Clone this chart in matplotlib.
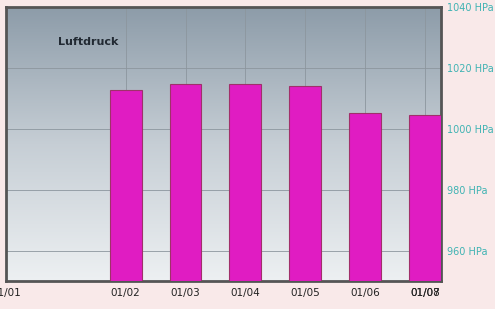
import numpy as np
import matplotlib.pyplot as plt
from matplotlib.colors import LinearSegmentedColormap

dates = ['01/02', '01/03', '01/04', '01/05', '01/06', '01/07']
pressure = [1012.7, 1014.6, 1014.6, 1014.0, 1005.3, 1004.6]  # hPa
y_ticks = [960, 980, 1000, 1020, 1040]
y_min = 950

x = np.arange(len(dates)) + 2  # 01/01 sits at the left edge, one slot empty

fig = plt.figure(figsize=(4.95, 3.09), dpi=100, facecolor='#f9e9e9')
ax = fig.add_axes([6 / 495, 28 / 309, 435 / 495, 274 / 309])

# background gradient
grad = LinearSegmentedColormap.from_list('bg', ['#edf0f2', '#c6ced5', '#8d9ca9'])
ax.imshow(np.linspace(0, 1, 256).reshape(-1, 1), aspect='auto', cmap=grad,
          origin='lower', extent=[0, 7.27, y_min, 1040], zorder=0)

ax.bar(x, np.array(pressure) - y_min, width=0.53, bottom=y_min, color='#e01cc2',
       edgecolor='#a0306a', linewidth=0.8, zorder=3)
ax.set_xlim(0, 7.27)
ax.set_ylim(y_min, 1040)

for yv in y_ticks[:-1]:
    ax.axhline(yv, color='#8c969e', linewidth=0.6, zorder=1)
for xv in x:
    ax.axvline(xv, color='#8c969e', linewidth=0.6, zorder=1)

ax.yaxis.tick_right()
ax.set_yticks(y_ticks)
ax.set_yticklabels([f'{v} HPa' for v in y_ticks], color='#3fb3b3', fontsize=7)
ax.set_xticks([0] + list(x))
ax.set_xticklabels(['01/01'] + dates, fontsize=7.5, color='#222222')
ax.tick_params(axis='x', length=0, pad=5)
ax.tick_params(axis='y', length=0, pad=4)
# the next day's label lands on top of the last one
ax.annotate('01/08', xy=(x[-1], 0), xycoords=('data', 'axes fraction'),
            xytext=(0, -5), textcoords='offset points', ha='center', va='top',
            fontsize=7.5, color='#222222')

for s in ax.spines.values():
    s.set_color('#555555')
    s.set_linewidth(2)

ax.text(0.12, 0.86, 'Luftdruck', transform=ax.transAxes, fontsize=8,
        fontweight='bold', color='#222a33')

fig.savefig('out.png', dpi=100, facecolor=fig.get_facecolor())
